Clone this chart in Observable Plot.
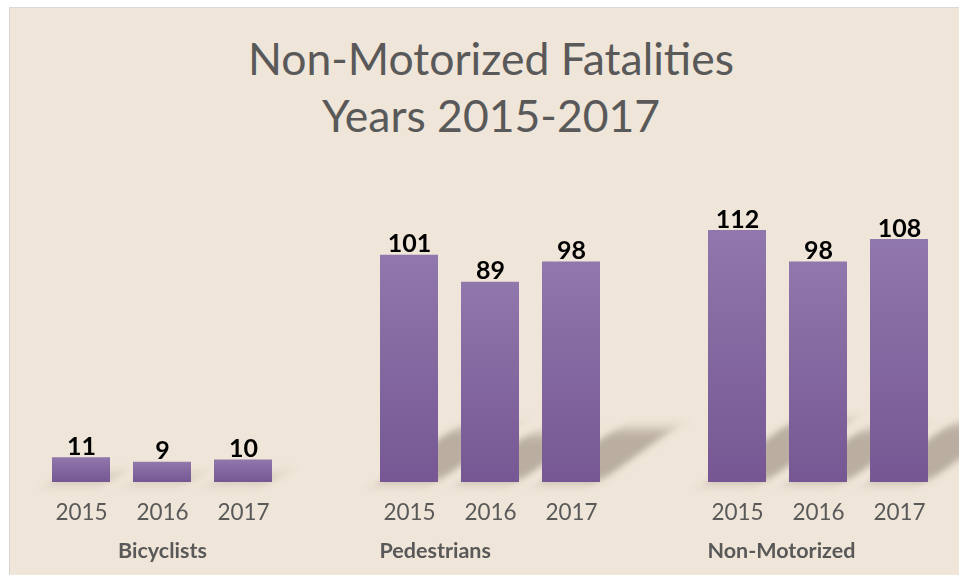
<!DOCTYPE html>
<html>
<head>
<meta charset="utf-8">
<script src="https://cdn.jsdelivr.net/npm/d3@7"></script>
<script src="https://cdn.jsdelivr.net/npm/@observablehq/plot@0.6"></script>
<style>
  html, body { margin: 0; padding: 0; background: #ffffff; }
  #frame {
    position: absolute; left: 9px; top: 7px; width: 950px; height: 567px;
    background: #EFE5D8; border-left: 1px solid #d6d3cf; border-top: 1px solid #dcd9d5;
  }
  #title {
    height: 151px; box-sizing: border-box; padding-top: 21px;
    text-align: center; font-family: Lato, sans-serif; color: #595959;
    font-size: 44.5px; line-height: 57px; margin-left: 12px;
  }
  #chart svg { display: block; }
</style>
</head>
<body>
<div id="frame">
  <div id="title">Non-Motorized Fatalities<br>Years 2015-2017</div>
  <div id="chart"></div>
</div>
<script>
const groups = ["Bicyclists", "Pedestrians", "Non-Motorized"];
const years = ["2015", "2016", "2017"];
const bicyclists = [11, 9, 10];
const pedestrians = [101, 89, 98];
const nonMotorized = [112, 98, 108];

const seriesByGroup = [bicyclists, pedestrians, nonMotorized];
const data = groups.flatMap((g, i) =>
  years.map((y, j) => ({group: g, year: y, value: seriesByGroup[i][j]}))
);
const groupLabels = groups.map((g, i) => ({group: g, year: i === 0 ? years[1] : years[0]}));

const baseY = 323;
const svg = Plot.plot({
  width: 949,
  height: 414,
  marginLeft: 29,
  marginRight: 16,
  marginTop: 71,
  marginBottom: 91,
  style: {background: "transparent", fontFamily: "Lato, sans-serif", color: "#595959", overflow: "visible"},
  fx: {domain: groups, paddingInner: 0.252, paddingOuter: 0, axis: null, label: null},
  x: {domain: years, paddingInner: 0.28, paddingOuter: 0.14, label: null},
  y: {domain: [0, d3.max(data, d => d.value)], axis: null},
  marks: [
    Plot.rectY(data, {fx: "group", x: "year", y1: 0, y2: d => d.value * 0.24,
      fill: "#a29787", fillOpacity: 0.7, ariaDescription: "shadow"}),
    Plot.barY(data, {fx: "group", x: "year", y: "value", fill: "url(#barGrad)"}),
    Plot.text(data, {fx: "group", x: "year", y: "value", text: d => String(d.value),
      lineAnchor: "bottom", dy: -3, fontSize: 25, fontWeight: "bold", fill: "#000000"}),
    Plot.axisX({tickSize: 0, tickPadding: 22, fontSize: 22.5, color: "#595959", label: null}),
    Plot.text(groupLabels.filter((d, i) => i === 0), {fx: "group", x: "year", y: 0, text: "group",
      dy: 69, lineAnchor: "middle", textAnchor: "middle", fontSize: 21.5, fontWeight: "bold", fill: "#595959"}),
    Plot.text(groupLabels.filter((d, i) => i > 0), {fx: "group", x: "year", y: 0, text: "group",
      dy: 69, dx: -30, lineAnchor: "middle", textAnchor: "start", fontSize: 21.5, fontWeight: "bold", fill: "#595959"})
  ]
});

const ns = "http://www.w3.org/2000/svg";
const defs = document.createElementNS(ns, "defs");
defs.innerHTML = `
  <linearGradient id="barGrad" x1="0" y1="0" x2="0" y2="1">
    <stop offset="0" stop-color="#9077AC"/>
    <stop offset="1" stop-color="#765793"/>
  </linearGradient>
  <filter id="shadowBlur" x="-50%" y="-50%" width="200%" height="200%">
    <feGaussianBlur stdDeviation="5.5"/>
  </filter>`;
svg.insertBefore(defs, svg.firstChild);
const sh = svg.querySelector('g[aria-description="shadow"]');
if (sh) {
  sh.setAttribute("transform", `translate(0,${baseY}) skewX(-54) translate(0,${-baseY})`);
  sh.setAttribute("filter", "url(#shadowBlur)");
}
document.getElementById("chart").appendChild(svg);
</script>
</body>
</html>
